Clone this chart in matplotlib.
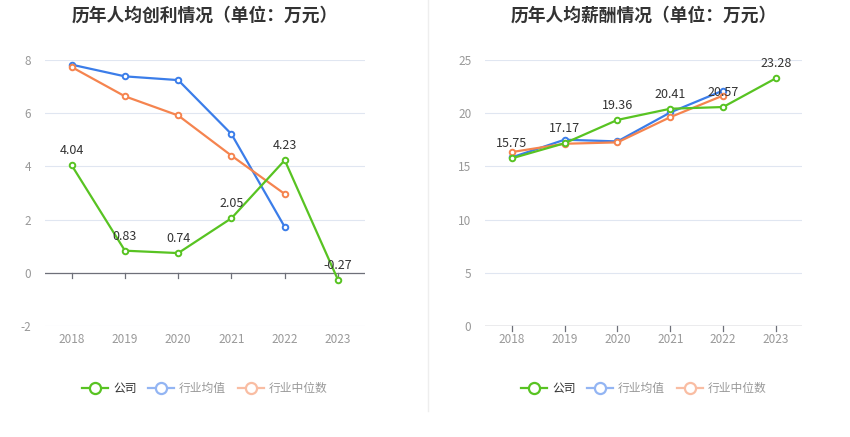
import matplotlib.pyplot as plt
from matplotlib.lines import Line2D

plt.rcParams['font.family'] = ['Noto Sans CJK SC', 'DejaVu Sans']
plt.rcParams['axes.unicode_minus'] = False

years = ['2018', '2019', '2020', '2021', '2022', '2023']

# 人均创利
profit_company = [4.04, 0.83, 0.74, 2.05, 4.23, -0.27]
profit_avg = [7.82, 7.38, 7.24, 5.21, 1.72]
profit_median = [7.73, 6.63, 5.91, 4.40, 2.96]

# 人均薪酬
salary_company = [15.75, 17.17, 19.36, 20.41, 20.57, 23.28]
salary_avg = [15.84, 17.50, 17.34, 20.06, 22.12]
salary_median = [16.34, 17.12, 17.25, 19.62, 21.65]

green = '#58c322'
blue = '#3b7de9'
orange = '#f5844f'
grid_c = '#e0e6f1'
tick_c = '#999999'

fig = plt.figure(figsize=(8.5, 4.37), dpi=100)


def draw(ax, comp, avg, med, ylim, yticks, title):
    x = list(range(len(years)))
    ax.plot(x[:len(avg)], avg, color=blue, lw=1.6, marker='o', ms=4,
            mfc='white', mew=1.4, zorder=3)
    ax.plot(x[:len(med)], med, color=orange, lw=1.6, marker='o', ms=4,
            mfc='white', mew=1.4, zorder=3)
    ax.plot(x, comp, color=green, lw=1.6, marker='o', ms=4,
            mfc='white', mew=1.4, zorder=4)
    span = ylim[1] - ylim[0]
    for xi, v in zip(x, comp):
        ax.text(xi, v + span * 0.03, f'{v:.2f}', ha='center', va='bottom',
                fontsize=9, color='#333333', zorder=5)
    ax.set_xlim(-0.5, len(years) - 0.5)
    ax.set_ylim(*ylim)
    ax.set_yticks(yticks)
    ax.set_xticks(x)
    ax.set_xticklabels(years)
    ax.grid(axis='y', color=grid_c, lw=0.8)
    ax.set_axisbelow(True)
    for s in ['top', 'right', 'left', 'bottom']:
        ax.spines[s].set_visible(False)
    ax.axhline(0, color='#6e7079', lw=0.9, zorder=2)
    ax.tick_params(axis='y', length=0, colors=tick_c, labelsize=8.5, pad=10)
    ax.tick_params(axis='x', length=0, colors=tick_c, labelsize=8.5, pad=5)
    # ticks on the zero line
    for xi in x:
        ax.plot([xi, xi], [0, -span * 0.018], color='#6e7079', lw=0.9,
                clip_on=False, zorder=2)
    ax.set_title(title, fontsize=12.8, fontweight='bold', color='#333333',
                 pad=28)
    handles = [
        Line2D([], [], color=green, lw=1.6, marker='o', ms=8, mfc='white', mew=1.6),
        Line2D([], [], color='#93b5f3', lw=1.6, marker='o', ms=8, mfc='white', mew=1.6),
        Line2D([], [], color='#f9bda3', lw=1.6, marker='o', ms=8, mfc='white', mew=1.6),
    ]
    leg = ax.legend(handles, ['公司', '行业均值', '行业中位数'], loc='upper center',
                    bbox_to_anchor=(0.5, -0.17), ncol=3, frameon=False,
                    fontsize=8.5, handlelength=2.2, columnspacing=1.0,
                    handletextpad=0.4)
    cols = ['#333333', tick_c, tick_c]
    for t, c in zip(leg.get_texts(), cols):
        t.set_color(c)


ax1 = fig.add_axes([0.053, 0.254, 0.376, 0.609])
draw(ax1, profit_company, profit_avg, profit_median, (-2, 8), [-2, 0, 2, 4, 6, 8],
     '历年人均创利情况（单位：万元）')

ax2 = fig.add_axes([0.571, 0.254, 0.373, 0.609])
draw(ax2, salary_company, salary_avg, salary_median, (0, 25), [0, 5, 10, 15, 20, 25],
     '历年人均薪酬情况（单位：万元）')

fig.add_artist(Line2D([0.503, 0.503], [0.06, 1.0], color='#eeeeee', lw=1))

fig.savefig('out.png', dpi=100)
